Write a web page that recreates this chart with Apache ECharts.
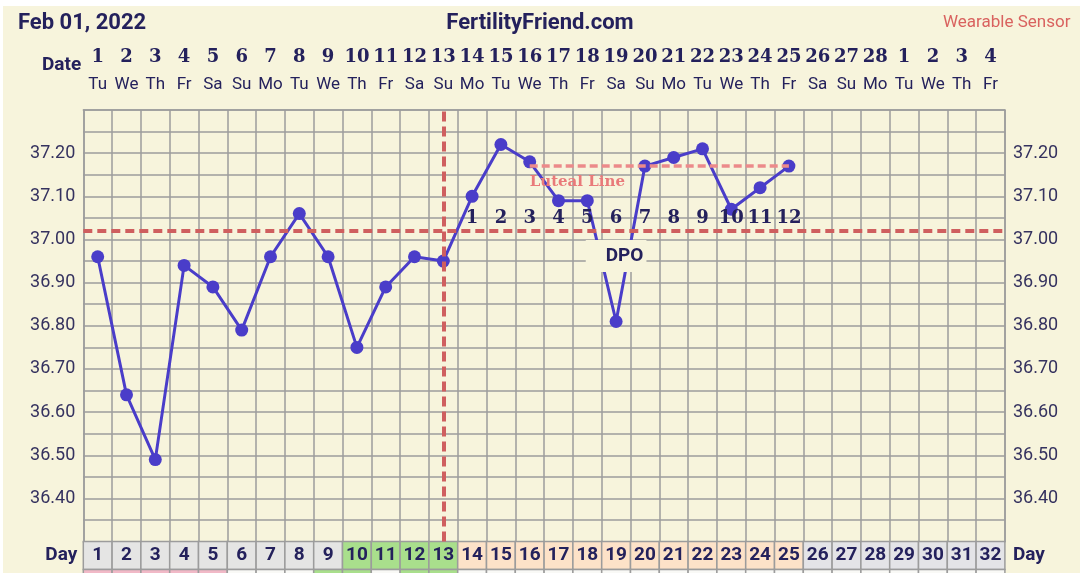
<!DOCTYPE html>
<html>
<head>
<meta charset="utf-8">
<script src="https://cdn.jsdelivr.net/npm/echarts@6/dist/echarts.min.js"></script>
<style>
html,body{margin:0;padding:0;background:#fff;}
#c{width:1080px;height:573px;background:linear-gradient(to right,#ffffff 0,#ffffff 3px,transparent 3px),linear-gradient(#ffffff 0,#ffffff 6px,#f7f4dc 6px);}
</style>
</head>
<body>
<div id="c"></div>
<script>
// ---- data ----
const dates = ['1','2','3','4','5','6','7','8','9','10','11','12','13','14','15','16','17','18','19','20','21','22','23','24','25','26','27','28','1','2','3','4'];
const weekdays = ['Tu','We','Th','Fr','Sa','Su','Mo','Tu','We','Th','Fr','Sa','Su','Mo','Tu','We','Th','Fr','Sa','Su','Mo','Tu','We','Th','Fr','Sa','Su','Mo','Tu','We','Th','Fr'];
const cycleDays = ['1','2','3','4','5','6','7','8','9','10','11','12','13','14','15','16','17','18','19','20','21','22','23','24','25','26','27','28','29','30','31','32'];
const temps = [36.96,36.64,36.49,36.94,36.89,36.79,36.96,37.06,36.96,36.75,36.89,36.96,36.95,37.10,37.22,37.18,37.09,37.09,36.81,37.17,37.19,37.21,37.07,37.12,37.17,null,null,null,null,null,null,null];
const dpoLabels = ['','','','','','','','','','','','','','1','2','3','4','5','6','7','8','9','10','11','12','','','','','','',''];
const dpoTitle = ['','','','','','','','','','','','','','','','','','','DPO','','','','','','','','','','','','',''];
const coverline = 37.02;
const ovulationDay = '13';
const lutealLevel = 37.17;
const lutealStart = '16';
const lutealEnd = '25';
const dayPhase = ['pre','pre','pre','pre','pre','pre','pre','pre','pre','fertile','fertile','fertile','fertile','luteal','luteal','luteal','luteal','luteal','luteal','luteal','luteal','luteal','luteal','luteal','luteal','future','future','future','future','future','future','future'];
const bottomMarks = ['period','period','period','period','period','none','none','none','cm','cm','none','cm','cm','none','none','none','none','none','none','none','none','none','none','none','none','none','none','none','none','none','none','none'];
const yMin = 36.30, yMax = 37.30, yStep = 0.05;

// ---- styles ----
const NAVY = '#24215c';
const GRIDC = '#9c9c9c';
const CREAM = '#f7f4dc';
const phaseColor = {pre:'#e5e5e4', fertile:'#a9df8c', luteal:'#fde2c8', future:'#e4e4e7'};
const markColor = {period:'#f1b9c7', cm:'#a9df8c', none:'#f9f9f6'};
const serif = '"DejaVu Serif", serif';
const sans = 'Roboto, "Noto Sans", sans-serif';

const chart = echarts.init(document.getElementById('c'));
const G = {left:83.3, right:75.1};

function cellSeries(xIdx, yIdx, colorFn, textFn){
  return {
    type:'custom', xAxisIndex:xIdx, yAxisIndex:yIdx, silent:true,
    data: cycleDays.map((d,i)=>[i,0]),
    renderItem:(params, api)=>{
      const i = api.value(0);
      const c = api.coord([i,0]);
      const s = api.size([1,1]);
      const el = {
        type:'rect',
        shape:{x:c[0]-s[0]/2, y:c[1]-s[1]/2, width:s[0], height:s[1]},
        style:{fill:colorFn(i), stroke:GRIDC, lineWidth:1.5}
      };
      const t = textFn(i);
      if (t) {
        el.textContent = {style:{text:t, fill:NAVY, font:'bold 19px ' + sans}};
        el.textConfig = {position:'inside'};
      }
      return el;
    }
  };
}

const yLabel = v => {
  const r = Math.round(v*100);
  return (r % 10 === 0 && r >= 3640 && r <= 3720) ? (r/100).toFixed(2) : '';
};

const option = {
  animation:false,
  title:[
    {text:'Feb 01, 2022', left:13, top:7, textStyle:{color:NAVY, fontFamily:sans, fontWeight:'bold', fontSize:22}},
    {text:'FertilityFriend.com', left:'center', top:7, textStyle:{color:NAVY, fontFamily:sans, fontWeight:'bold', fontSize:22}},
    {text:'Wearable Sensor', left:938, top:9, textStyle:{color:'#d9625f', fontFamily:sans, fontWeight:'normal', fontSize:17}},
    {text:'Date', left:37, top:51, textStyle:{color:NAVY, fontFamily:sans, fontWeight:'bold', fontSize:19}}
  ],
  grid:[
    {left:G.left, right:G.right, top:110, height:431.6},
    {left:G.left, right:G.right, top:541.6, height:28},
    {left:G.left, right:G.right, top:569.6, height:26}
  ],
  xAxis:[
    {gridIndex:0, type:'category', data:dates, position:'top', boundaryGap:true,
      axisLine:{show:true, lineStyle:{color:GRIDC, width:1.5}}, axisTick:{show:false},
      splitLine:{show:true, interval:0, lineStyle:{color:GRIDC, width:1.5}},
      axisLabel:{interval:0, margin:11,
        formatter:(v,i)=>'{d|'+dates[i]+'}\n{w|'+weekdays[i]+'}',
        rich:{d:{fontFamily:serif, fontWeight:'bold', fontSize:18, color:NAVY, lineHeight:28, align:'center'},
              w:{fontFamily:sans, fontSize:17, color:NAVY, lineHeight:28, align:'center'}}}},
    {gridIndex:0, type:'category', data:cycleDays, position:'bottom', boundaryGap:true,
      axisLine:{show:true, lineStyle:{color:GRIDC, width:1.5}}, axisTick:{show:false}, axisLabel:{show:false}},
    {gridIndex:0, type:'category', data:dpoLabels, position:'top', boundaryGap:true, z:4,
      axisLine:{show:false}, axisTick:{show:false},
      axisLabel:{inside:true, interval:0, margin:99, color:NAVY, fontFamily:serif, fontWeight:'bold', fontSize:18}},
    {gridIndex:0, type:'category', data:dpoTitle, position:'top', boundaryGap:true, z:10,
      axisLine:{show:false}, axisTick:{show:false},
      axisLabel:{inside:true, interval:0, margin:130,
        formatter:v => v ? '{b|' + v + '}' : '',
        rich:{b:{color:NAVY, fontFamily:sans, fontWeight:'bold', fontSize:19, backgroundColor:CREAM, padding:[7,3,6,20]}}}},
    {gridIndex:1, type:'category', data:cycleDays, show:false, boundaryGap:true},
    {gridIndex:2, type:'category', data:cycleDays, show:false, boundaryGap:true}
  ],
  yAxis:[
    {gridIndex:0, type:'value', min:yMin, max:yMax, interval:yStep, position:'left',
      axisLine:{show:true, lineStyle:{color:GRIDC, width:1.5}}, axisTick:{show:false},
      splitLine:{show:true, lineStyle:{color:GRIDC, width:1.5}},
      axisLabel:{formatter:yLabel, margin:8, color:'#35325f', fontFamily:sans, fontSize:18}},
    {gridIndex:0, type:'value', min:yMin, max:yMax, interval:yStep, position:'right',
      axisLine:{show:true, lineStyle:{color:GRIDC, width:1.5}}, axisTick:{show:false}, splitLine:{show:false},
      axisLabel:{formatter:yLabel, margin:8, color:'#35325f', fontFamily:sans, fontSize:18}},
    {gridIndex:1, type:'category', data:['Day'], position:'left', axisLine:{show:false}, axisTick:{show:false},
      axisLabel:{margin:6, color:NAVY, fontFamily:sans, fontWeight:'bold', fontSize:19}},
    {gridIndex:1, type:'category', data:['Day'], position:'right', axisLine:{show:false}, axisTick:{show:false},
      axisLabel:{margin:8, color:NAVY, fontFamily:sans, fontWeight:'bold', fontSize:19}},
    {gridIndex:2, type:'category', data:[''], show:false}
  ],
  series:[
    {type:'line', xAxisIndex:1, yAxisIndex:0, z:1, silent:true, data:cycleDays.map(()=>null), symbol:'none',
      markLine:{silent:true, symbol:'none', label:{show:false},
        data:[
          {yAxis:coverline, lineStyle:{color:'#cf5f5f', width:4, type:[9,5]}},
          {xAxis:ovulationDay, lineStyle:{color:'#cf5f5f', width:4, type:[10,5]}},
          [{coord:[lutealStart, lutealLevel], lineStyle:{color:'#ec8a8a', width:3.5, type:[8,4]},
            label:{show:true, position:'insideStartBottom', formatter:'Luteal Line', distance:[0,9],
              color:'#e97a7a', fontFamily:serif, fontWeight:'bold', fontSize:15}},
           {coord:[lutealEnd, lutealLevel]}]
        ]}},
    {type:'line', xAxisIndex:1, yAxisIndex:0, z:3, data:temps, connectNulls:false,
      symbol:'circle', symbolSize:13, lineStyle:{color:'#4a3dc9', width:3}, itemStyle:{color:'#4a3dc9'}},
    cellSeries(4, 2, i=>phaseColor[dayPhase[i]], i=>cycleDays[i]),
    cellSeries(5, 4, i=>markColor[bottomMarks[i]], i=>'')
  ]
};
chart.setOption(option);
</script>
</body>
</html>
